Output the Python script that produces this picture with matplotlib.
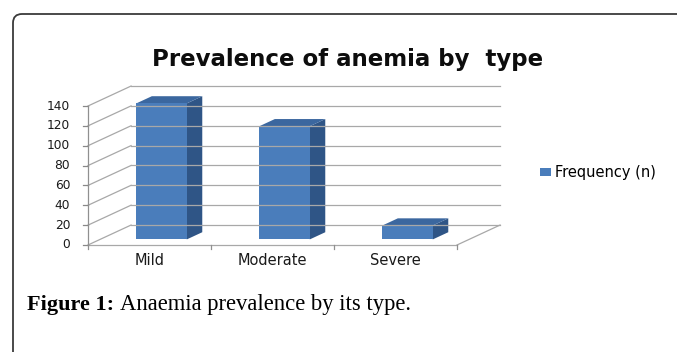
import matplotlib
matplotlib.use('Agg')
import matplotlib.pyplot as plt
from matplotlib.patches import Polygon, FancyBboxPatch
from matplotlib.transforms import IdentityTransform

categories = ['Mild', 'Moderate', 'Severe']
frequency = [137, 114, 14]
y_ticks = [0, 20, 40, 60, 80, 100, 120, 140]
series_name = 'Frequency (n)'
title = 'Prevalence of anemia by  type'

W, H = 677, 352
fig = plt.figure(figsize=(W / 100, H / 100), dpi=100)

# the axes box is the front plane: floor edge along x, 0..140 up the side
ax = fig.add_axes([88 / W, (H - 245) / H, (457 - 88) / W, (245 - 106) / H])
ax.set_xlim(0, len(categories))
ax.set_ylim(0, 140)
ax.axis('off')

# depth vector of the fake 3d box, in data units
DX, DY = 0.35, 20.1

def proj(x, y, d):
    return (x + d * DX, y + d * DY)

grid_c = '#a8a8a8'
nx = len(categories)

# walls: back gridlines and left wall diagonals
for v in y_ticks:
    p0, p1 = proj(0, v, 1), proj(nx, v, 1)
    ax.plot([p0[0], p1[0]], [p0[1], p1[1]], color=grid_c, lw=0.9, clip_on=False)
    ax.plot([0, p0[0]], [v, p0[1]], color=grid_c, lw=0.9, clip_on=False)
    ax.plot([-0.04, 0], [v, v], color='#888888', lw=0.9, clip_on=False)
    ax.text(-0.145, v, str(v), ha='right', va='center', fontsize=8.8, color='#1a1a1a')

# floor
pr = proj(nx, 0, 1)
ax.plot([0, nx], [0, 0], color=grid_c, lw=0.9, clip_on=False)
ax.plot([nx, pr[0]], [0, pr[1]], color=grid_c, lw=0.9, clip_on=False)
ax.plot([0, 0], [0, 140], color='#909090', lw=0.9, clip_on=False)
for i in range(nx + 1):
    ax.plot([i, i], [0, -4], color='#909090', lw=0.9, clip_on=False)

# bars
front_c, side_c, top_c = '#4a7dbb', '#2f5586', '#3b679f'
bw, d0, d1 = 0.41, 0.28, 0.64
front_patch = None
for i, v in enumerate(frequency):
    x0 = i + 0.5 - bw / 2
    x1 = x0 + bw
    front = [proj(x0, 0, d0), proj(x1, 0, d0), proj(x1, v, d0), proj(x0, v, d0)]
    side = [proj(x1, 0, d0), proj(x1, 0, d1), proj(x1, v, d1), proj(x1, v, d0)]
    top = [proj(x0, v, d0), proj(x1, v, d0), proj(x1, v, d1), proj(x0, v, d1)]
    ax.add_patch(Polygon(side, closed=True, fc=side_c, ec='none', clip_on=False))
    ax.add_patch(Polygon(top, closed=True, fc=top_c, ec='none', clip_on=False))
    p = Polygon(front, closed=True, fc=front_c, ec='none', clip_on=False)
    ax.add_patch(p)
    front_patch = p
    ax.text(i + 0.5, -15.5, categories[i], ha='center', va='center', fontsize=10.5, color='#1a1a1a')

fig.text(348 / W, 1 - 66 / H, title, ha='center', va='baseline',
         fontsize=16.5, fontweight='bold', color='#0d0d0d')

fig.legend([front_patch], [series_name], loc='center left',
           bbox_to_anchor=(540 / W, 1 - 173 / H), frameon=False,
           handlelength=0.75, handleheight=0.45, handletextpad=0.3,
           borderpad=0, borderaxespad=0, fontsize=10.5)

# caption under the chart
cap1 = fig.text(27 / W, 1 - 310 / H, 'Figure 1:', ha='left', va='baseline',
                family='Liberation Serif', fontweight='bold', fontsize=16)
r = fig.canvas.get_renderer()
bb = cap1.get_window_extent(renderer=r)
fig.text((bb.x1 + 6) / W, 1 - 310 / H, 'Anaemia prevalence by its type.',
         ha='left', va='baseline', family='Liberation Serif', fontsize=16.3)

# frame around the figure panel
frame = FancyBboxPatch((13, -30), 720, H - 14 + 30, boxstyle='round,pad=0,rounding_size=9',
                       transform=IdentityTransform(), fc='none', ec='#3a3a3a', lw=1.3)
fig.add_artist(frame)

fig.savefig('out.png', dpi=100)
